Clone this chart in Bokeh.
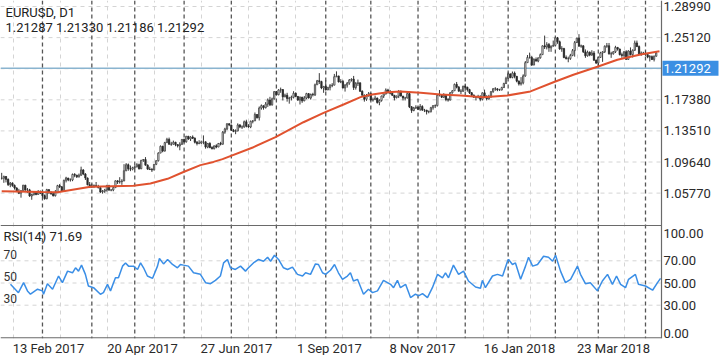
from bokeh.plotting import figure
from bokeh.models import Range1d, FixedTicker, Span, Label, ColumnDataSource
from bokeh.core.properties import value
from bokeh.embed import file_html
from bokeh.resources import INLINE

# ---------------- data ----------------
symbol_title = "EURUSD, D1"
ohlc_text = "1.21287 1.21330 1.21186 1.21292"
rsi_title = "RSI(14) 71.69"
bid_price = 1.21292
first_open = 1.0760

closes = [
    1.0762, 1.0783, 1.0748, 1.0683, 1.0700, 1.0672, 1.0640, 1.0600, 1.0576, 1.0606, 1.0675, 1.0616, 1.0617, 1.0541, 1.0560, 1.0587, 1.0560, 1.0589, 1.0575,
    1.0545, 1.0507, 1.0620, 1.0580, 1.0570, 1.0544, 1.0583, 1.0670, 1.0655, 1.0605, 1.0735, 1.0765, 1.0740, 1.0740, 1.0810, 1.0800, 1.0780, 1.0800, 1.0865, 1.0815, 1.0765, 1.0680, 1.0650,
    1.0665, 1.0670, 1.0660, 1.0645, 1.0590, 1.0600, 1.0615, 1.0670, 1.0615, 1.0615, 1.0645, 1.0730, 1.0715, 1.0720, 1.0727, 1.0855, 1.0930, 1.0880, 1.0875, 1.0895,
    1.0905, 1.0930, 1.0880, 1.0985, 1.0995, 1.0925, 1.0875, 1.0870, 1.0865, 1.0935, 1.0980, 1.1075, 1.1160, 1.1100, 1.1205, 1.1245, 1.1185, 1.1185, 1.1210, 1.1180, 1.1165, 1.1185, 1.1245,
    1.1215, 1.1285, 1.1250, 1.1275, 1.1260, 1.1210, 1.1195, 1.1200, 1.1215, 1.1215, 1.1150, 1.1195, 1.1145, 1.1130, 1.1165, 1.1150, 1.1195, 1.1185, 1.1335, 1.1375, 1.1440, 1.1425,
    1.1360, 1.1345, 1.1350, 1.1425, 1.1400, 1.1400, 1.1465, 1.1410, 1.1400, 1.1470, 1.1475, 1.1555, 1.1515, 1.1635, 1.1665, 1.1640, 1.1685, 1.1735, 1.1675, 1.1750, 1.1840,
    1.1800, 1.1860, 1.1865, 1.1775, 1.1795, 1.1755, 1.1760, 1.1770, 1.1820, 1.1780, 1.1735, 1.1770, 1.1725, 1.1760, 1.1815, 1.1760, 1.1805, 1.1800, 1.1925, 1.1975, 1.1965, 1.1885, 1.1905,
    1.1860, 1.1890, 1.1915, 1.1920, 1.2025, 1.2035, 1.1960, 1.1965, 1.1885, 1.1920, 1.1945, 1.1985, 1.1995, 1.1890, 1.1940, 1.1950, 1.1845, 1.1795, 1.1745, 1.1785, 1.1815,
    1.1735, 1.1740, 1.1760, 1.1705, 1.1730, 1.1785, 1.1810, 1.1860, 1.1830, 1.1820, 1.1795, 1.1765, 1.1785, 1.1840, 1.1785, 1.1760, 1.1760, 1.1815, 1.1650, 1.1605, 1.1635, 1.1645,
    1.1620, 1.1655, 1.1610, 1.1610, 1.1590, 1.1590, 1.1640, 1.1665, 1.1665, 1.1795, 1.1795, 1.1770, 1.1795, 1.1740, 1.1735, 1.1825, 1.1850, 1.1930, 1.1895, 1.1845, 1.1845, 1.1905,
    1.1895, 1.1865, 1.1825, 1.1795, 1.1770, 1.1770, 1.1780, 1.1745, 1.1825, 1.1780, 1.1750, 1.1780, 1.1840, 1.1875, 1.1875, 1.1860, 1.1860, 1.1890, 1.1940, 1.2005,
    1.2060, 1.2015, 1.2070, 1.2030, 1.1970, 1.1935, 1.1950, 1.2035, 1.2200, 1.2265, 1.2265, 1.2170, 1.2240, 1.2220, 1.2260, 1.2300, 1.2410, 1.2395, 1.2425, 1.2385, 1.2405, 1.2415,
    1.2510, 1.2460, 1.2370, 1.2375, 1.2265, 1.2250, 1.2250, 1.2290, 1.2350, 1.2450, 1.2505, 1.2405, 1.2410, 1.2335, 1.2285, 1.2330, 1.2295, 1.2320, 1.2230, 1.2195,
    1.2265, 1.2320, 1.2335, 1.2405, 1.2410, 1.2310, 1.2310, 1.2335, 1.2390, 1.2370, 1.2300, 1.2290, 1.2335, 1.2240, 1.2345, 1.2300, 1.2355, 1.2445, 1.2400, 1.2310, 1.2320, 1.2320,
    1.2300, 1.2270, 1.2275, 1.2240, 1.2280, 1.2320,
]

highs = [
    1.0829, 1.0795, 1.0790, 1.0760, 1.0715, 1.0712, 1.0685, 1.0650, 1.0630, 1.0615, 1.0680, 1.0680, 1.0640, 1.0630, 1.0570, 1.0600, 1.0595, 1.0615, 1.0610,
    1.0590, 1.0560, 1.0630, 1.0625, 1.0600, 1.0575, 1.0615, 1.0680, 1.0690, 1.0665, 1.0745, 1.0780, 1.0765, 1.0760, 1.0820, 1.0825, 1.0805, 1.0820, 1.0906, 1.0875, 1.0825, 1.0770, 1.0715,
    1.0690, 1.0685, 1.0715, 1.0680, 1.0665, 1.0615, 1.0630, 1.0680, 1.0680, 1.0625, 1.0660, 1.0735, 1.0735, 1.0775, 1.0750, 1.0937, 1.0950, 1.0945, 1.0920, 1.0905,
    1.0920, 1.0950, 1.0945, 1.0990, 1.1000, 1.1025, 1.0935, 1.0905, 1.0890, 1.0940, 1.0985, 1.1085, 1.1170, 1.1165, 1.1215, 1.1265, 1.1268, 1.1215, 1.1230, 1.1215, 1.1185, 1.1210, 1.1250,
    1.1255, 1.1285, 1.1285, 1.1285, 1.1295, 1.1270, 1.1225, 1.1235, 1.1230, 1.1295, 1.1220, 1.1200, 1.1210, 1.1160, 1.1170, 1.1185, 1.1200, 1.1215, 1.1350, 1.1390, 1.1445, 1.1445,
    1.1425, 1.1375, 1.1370, 1.1445, 1.1435, 1.1420, 1.1480, 1.1490, 1.1435, 1.1480, 1.1485, 1.1580, 1.1560, 1.1655, 1.1680, 1.1665, 1.1710, 1.1755, 1.1775, 1.1765, 1.1845,
    1.1845, 1.1870, 1.1890, 1.1870, 1.1815, 1.1825, 1.1775, 1.1790, 1.1845, 1.1830, 1.1785, 1.1780, 1.1775, 1.1785, 1.1825, 1.1820, 1.1815, 1.1825, 1.1940, 1.1985, 1.2070, 1.1975, 1.1910,
    1.1980, 1.1900, 1.1935, 1.1945, 1.2060, 1.2092, 1.2030, 1.1995, 1.1985, 1.1935, 1.1960, 1.1995, 1.2005, 1.2035, 1.1960, 1.1990, 1.1950, 1.1855, 1.1805, 1.1810, 1.1835,
    1.1810, 1.1765, 1.1790, 1.1765, 1.1745, 1.1790, 1.1815, 1.1880, 1.1875, 1.1860, 1.1835, 1.1795, 1.1790, 1.1860, 1.1855, 1.1780, 1.1775, 1.1830, 1.1835, 1.1660, 1.1650, 1.1670,
    1.1655, 1.1685, 1.1670, 1.1625, 1.1610, 1.1605, 1.1650, 1.1670, 1.1680, 1.1810, 1.1860, 1.1805, 1.1820, 1.1790, 1.1760, 1.1835, 1.1860, 1.1940, 1.1960, 1.1910, 1.1870, 1.1915,
    1.1940, 1.1900, 1.1875, 1.1835, 1.1805, 1.1780, 1.1800, 1.1795, 1.1830, 1.1865, 1.1795, 1.1800, 1.1845, 1.1885, 1.1895, 1.1880, 1.1875, 1.1900, 1.1950, 1.2025,
    1.2080, 1.2065, 1.2090, 1.2090, 1.2035, 1.1980, 1.2020, 1.2055, 1.2220, 1.2295, 1.2325, 1.2285, 1.2255, 1.2265, 1.2265, 1.2315, 1.2415, 1.2537, 1.2455, 1.2445, 1.2415, 1.2475,
    1.2520, 1.2520, 1.2475, 1.2405, 1.2385, 1.2290, 1.2275, 1.2310, 1.2370, 1.2470, 1.2510, 1.2555, 1.2425, 1.2415, 1.2365, 1.2350, 1.2340, 1.2355, 1.2345, 1.2240,
    1.2275, 1.2335, 1.2345, 1.2415, 1.2445, 1.2445, 1.2335, 1.2345, 1.2410, 1.2395, 1.2375, 1.2325, 1.2345, 1.2355, 1.2355, 1.2390, 1.2365, 1.2475, 1.2475, 1.2415, 1.2340, 1.2335,
    1.2345, 1.2310, 1.2295, 1.2290, 1.2290, 1.2340,
]

lows = [
    1.0745, 1.0705, 1.0710, 1.0665, 1.0650, 1.0655, 1.0620, 1.0590, 1.0565, 1.0520, 1.0600, 1.0605, 1.0580, 1.0530, 1.0494, 1.0545, 1.0550, 1.0560, 1.0565,
    1.0525, 1.0495, 1.0500, 1.0570, 1.0555, 1.0535, 1.0535, 1.0580, 1.0640, 1.0600, 1.0600, 1.0710, 1.0725, 1.0720, 1.0725, 1.0775, 1.0765, 1.0770, 1.0790, 1.0800, 1.0740, 1.0675, 1.0640,
    1.0640, 1.0640, 1.0650, 1.0635, 1.0580, 1.0570, 1.0580, 1.0595, 1.0605, 1.0600, 1.0600, 1.0640, 1.0690, 1.0695, 1.0680, 1.0822, 1.0850, 1.0855, 1.0850, 1.0860,
    1.0875, 1.0895, 1.0870, 1.0875, 1.0965, 1.0920, 1.0870, 1.0865, 1.0840, 1.0860, 1.0925, 1.0970, 1.1075, 1.1085, 1.1095, 1.1200, 1.1180, 1.1165, 1.1180, 1.1160, 1.1145, 1.1110, 1.1175,
    1.1205, 1.1205, 1.1240, 1.1225, 1.1250, 1.1195, 1.1170, 1.1185, 1.1190, 1.1185, 1.1130, 1.1135, 1.1135, 1.1120, 1.1120, 1.1135, 1.1150, 1.1170, 1.1180, 1.1315, 1.1360, 1.1410,
    1.1350, 1.1335, 1.1310, 1.1345, 1.1385, 1.1375, 1.1390, 1.1395, 1.1390, 1.1385, 1.1445, 1.1475, 1.1505, 1.1480, 1.1615, 1.1615, 1.1630, 1.1650, 1.1660, 1.1665, 1.1740,
    1.1795, 1.1795, 1.1825, 1.1730, 1.1770, 1.1715, 1.1690, 1.1730, 1.1755, 1.1775, 1.1725, 1.1680, 1.1700, 1.1720, 1.1745, 1.1755, 1.1740, 1.1780, 1.1785, 1.1925, 1.1935, 1.1870, 1.1825,
    1.1855, 1.1860, 1.1855, 1.1895, 1.1925, 1.2020, 1.1955, 1.1945, 1.1880, 1.1840, 1.1890, 1.1925, 1.1965, 1.1860, 1.1865, 1.1910, 1.1835, 1.1790, 1.1715, 1.1725, 1.1780,
    1.1730, 1.1715, 1.1735, 1.1690, 1.1670, 1.1715, 1.1760, 1.1805, 1.1815, 1.1805, 1.1785, 1.1730, 1.1755, 1.1760, 1.1780, 1.1730, 1.1730, 1.1755, 1.1635, 1.1575, 1.1595, 1.1625,
    1.1610, 1.1600, 1.1600, 1.1585, 1.1555, 1.1570, 1.1580, 1.1615, 1.1635, 1.1655, 1.1780, 1.1760, 1.1760, 1.1720, 1.1715, 1.1730, 1.1815, 1.1850, 1.1880, 1.1840, 1.1810, 1.1835,
    1.1850, 1.1840, 1.1810, 1.1785, 1.1765, 1.1730, 1.1755, 1.1720, 1.1730, 1.1770, 1.1730, 1.1740, 1.1760, 1.1825, 1.1850, 1.1845, 1.1850, 1.1855, 1.1885, 1.1935,
    1.2000, 1.2005, 1.2005, 1.2005, 1.1955, 1.1915, 1.1915, 1.1930, 1.2025, 1.2205, 1.2250, 1.2160, 1.2170, 1.2215, 1.2205, 1.2250, 1.2295, 1.2370, 1.2365, 1.2335, 1.2335, 1.2400,
    1.2410, 1.2435, 1.2360, 1.2335, 1.2255, 1.2240, 1.2205, 1.2235, 1.2280, 1.2275, 1.2445, 1.2400, 1.2385, 1.2320, 1.2260, 1.2275, 1.2280, 1.2285, 1.2225, 1.2185,
    1.2155, 1.2260, 1.2210, 1.2320, 1.2385, 1.2300, 1.2260, 1.2300, 1.2320, 1.2350, 1.2290, 1.2260, 1.2260, 1.2240, 1.2240, 1.2290, 1.2265, 1.2345, 1.2395, 1.2305, 1.2285, 1.2305,
    1.2285, 1.2255, 1.2215, 1.2235, 1.2215, 1.2275,
]

# moving average (bar index, price)
ma_x = [0, 19, 26, 41.4, 61.4, 69.3, 77.3, 84.7, 92.6, 98.7, 102.9, 117.3, 127.6, 140.6, 150.0, 159.3,
        167.2, 171.9, 179.8, 185.8, 195.2, 204.5, 213.8, 224.5, 235.7, 246.4, 257.1, 266.4, 277.6,
        286.9, 297.7, 306.5]
ma_vals = [1.0601, 1.0590, 1.0588, 1.0655, 1.0668, 1.0696, 1.0755, 1.0840, 1.0925, 1.0965, 1.1000,
           1.1148, 1.1273, 1.1459, 1.1576, 1.1680, 1.1771, 1.1800, 1.1833, 1.1842, 1.1825, 1.1805,
           1.1792, 1.1771, 1.1792, 1.1842, 1.1957, 1.2049, 1.2149, 1.2236, 1.2302, 1.2343]

# RSI(14) (bar index, value)
rsi_x = [4.1, 7.8, 10.2, 12.0, 13.4, 16.7, 19.0, 19.5, 21.3, 23.7, 26.5, 28.3, 30.7, 33.0, 34.4, 35.8,
         37.2, 39.0, 40.4, 42.8, 46.0, 47.4, 49.3, 50.7, 53.0, 54.4, 56.3, 57.7, 59.1, 61.4, 63.3,
         64.7, 66.1, 67.9, 70.3, 72.6, 73.5, 75.4, 77.3, 79.6, 81.9, 83.3, 84.7, 87.0, 89.4, 92.6,
         95.0, 97.3, 99.6, 101.9, 103.4, 105.2, 106.6, 108.9, 111.3, 113.6, 115.0, 117.3, 119.7,
         122.0, 123.9, 125.3, 127.1, 129.0, 131.3, 133.2, 135.5, 137.8, 140.2, 141.6, 143.9, 146.2,
         147.6, 149.5, 150.9, 153.2, 155.1, 156.9, 158.8, 161.1, 162.5, 163.9, 165.8, 168.6, 170.9,
         172.8, 175.1, 177.9, 181.2, 182.6, 184.4, 185.8, 188.2, 190.5, 192.8, 194.2, 196.1, 198.4,
         200.7, 203.1, 205.4, 206.8, 208.2, 210.5, 212.9, 215.2, 217.5, 220.8, 223.1, 224.0, 225.4,
         228.7, 231.0, 233.4, 235.7, 236.2, 238.0, 239.4, 241.8, 244.1, 245.5, 247.4, 249.7, 252.5,
         254.8, 256.7, 258.1, 260.4, 262.7, 265.1, 268.3, 269.7, 272.0, 274.3, 277.6, 279.9, 282.3,
         284.6, 286.5, 288.4, 290.7, 292.1, 295.3, 296.7, 300.0, 303.3, 305.6, 307.0]
rsi_vals = [48.8, 41.3, 50.3, 42.9, 39.9, 44.4, 42.9, 39.9, 49.4, 44.4, 56.3, 50.3, 60.7, 59.2, 63.7, 60.7,
            66.1, 57.8, 47.3, 45.8, 39.9, 41.3, 48.8, 42.9, 54.7, 54.7, 65.2, 68.1, 65.2, 65.2, 62.2,
            68.1, 63.7, 56.3, 54.2, 65.2, 72.1, 67.2, 71.2, 66.7, 63.7, 66.7, 66.1, 65.2, 59.2, 57.8,
            50.3, 49.4, 52.4, 56.3, 68.1, 71.2, 63.7, 62.2, 65.2, 60.7, 63.7, 68.1, 71.2,
            69.6, 73.2, 69.6, 75.0, 71.2, 63.7, 62.2, 64.3, 57.8, 56.3, 59.2, 57.8, 67.2,
            66.7, 59.2, 57.8, 61.5, 66.7, 59.2, 53.3, 56.3, 59.2, 51.8, 53.3, 39.9, 44.4,
            41.3, 42.9, 52.4, 48.8, 45.8, 52.4, 45.8, 48.8, 36.9, 39.9, 38.4, 40.4, 36.9,
            45.8, 57.8, 54.7, 59.2, 54.7, 66.1, 57.8, 60.7, 51.8, 46.4, 45.3, 52.4, 45.8,
            56.3, 57.8, 56.3, 69.6, 71.2, 66.7, 68.1, 53.3, 65.2, 73.2, 65.2, 66.7, 74.1,
            73.2, 69.6, 75.0, 60.7, 50.3, 53.3, 65.2, 57.8, 49.4, 50.3, 42.9, 51.8, 57.8,
            48.8, 56.3, 48.8, 45.8, 53.3, 57.8, 48.8, 47.3, 43.5, 50.3, 54.2]

# month separators (bar index of first bar of each month, Mar 2017 .. Apr 2018)
month_start_bars = [19, 42, 62, 85, 107, 128, 151, 172, 194, 216, 236, 258, 278, 300]

date_labels = ["13 Feb 2017", "20 Apr 2017", "27 Jun 2017", "1 Sep 2017", "8 Nov 2017", "16 Jan 2018", "23 Mar 2018"]
date_label_pos = [21.8, 65.6, 109.4, 152.7, 196.1, 241.3, 285.1]

price_ticks = [1.28990, 1.25120, 1.17380, 1.13510, 1.09640, 1.05770]
price_grid_extra = [1.21250]
rsi_levels = [70, 50, 30]
rsi_axis_labels = ["100.00", "70.00", "50.00", "30.00", "0.00"]

# ---------------- geometry (layout only) ----------------
CW, FH = 720, 338                # frame covers whole width; price scale drawn inside it
AX_PX = 661                      # price-scale line position (px)
PPB = 2.146                      # pixels per bar
X_START = -1.2 / PPB
X_END = X_START + CW / PPB
K = 0.0387 / 31.1                # price per pixel
Y_TOP = 1.28990 + 6 * K
Y_BOT = Y_TOP - FH * K
RSI_PX = 1.11                    # pixels per RSI unit
RSI_TOP = FH / RSI_PX
SEP_PY = 225                     # panel separator (px from top)


def sx(px):
    return X_START + px / PPB


def sy(py):
    return Y_TOP - py * K


def rsi_py(r):
    return FH - r * RSI_PX


FONT = "Roboto"
AXIS_COLOR = "#6a6a6a"
GRID_COLOR = "#d4d4d4"

p = figure(frame_width=CW, frame_height=FH,
           x_range=Range1d(X_START, X_END), y_range=Range1d(Y_BOT, Y_TOP),
           y_axis_location=None, output_backend="svg", toolbar_location=None,
           min_border_left=0, min_border_top=0, min_border_right=0, min_border_bottom=0,
           background_fill_color="white", border_fill_color="white", outline_line_color=None)
p.extra_y_ranges = {"rsi": Range1d(0, RSI_TOP)}

# vertical light grid
light_grid = [5.5 + 21.9 * k for k in range(14)]
p.xgrid.ticker = FixedTicker(ticks=light_grid)
p.xgrid.grid_line_color = GRID_COLOR
p.xgrid.grid_line_dash = "4 4"
p.xgrid.grid_line_width = 1
p.ygrid.grid_line_color = None

# horizontal grid lines, stopping at the price scale
rsi_grid_prices = [sy(rsi_py(v)) for v in rsi_levels]
hgrid = price_ticks + price_grid_extra + rsi_grid_prices
p.segment(x0=[X_START] * len(hgrid), x1=[sx(AX_PX)] * len(hgrid), y0=hgrid, y1=hgrid,
          line_color=GRID_COLOR, line_dash="4 4", line_width=1, level="underlay")

# month separators
for b in month_start_bars:
    p.add_layout(Span(location=b, dimension="height", line_color="#555555",
                      line_dash="4 3", line_width=1.3, level="underlay"))

# price-scale line, panel separator, bottom line
p.add_layout(Span(location=sx(AX_PX), dimension="height", line_color=AXIS_COLOR, line_width=1.2))
p.segment(x0=[X_START, X_START], x1=[sx(AX_PX), sx(AX_PX)], y0=[sy(SEP_PY), sy(FH - 0.6)],
          y1=[sy(SEP_PY), sy(FH - 0.6)], line_color=AXIS_COLOR, line_width=1.2)

# bid line
p.segment(x0=[X_START], x1=[sx(AX_PX)], y0=[bid_price], y1=[bid_price],
          line_color="#8ab4cf", line_width=1.5, level="underlay")

# candles
n = min(len(closes), len(highs), len(lows))
opens = [first_open] + closes[:n - 1]
up = dict(x=[], top=[], bottom=[])
dn = dict(x=[], top=[], bottom=[])
wick = dict(x=[], h=[], l=[])
for i in range(n):
    o, c = opens[i], closes[i]
    h = max(highs[i], o, c)
    l = min(lows[i], o, c)
    wick["x"].append(i)
    wick["h"].append(h)
    wick["l"].append(l)
    d = up if c >= o else dn
    d["x"].append(i)
    d["top"].append(max(o, c))
    d["bottom"].append(min(o, c))

p.segment(x0="x", y0="l", x1="x", y1="h", source=ColumnDataSource(wick),
          line_color="#3a3a3a", line_width=1)
p.vbar(x="x", width=0.6, top="top", bottom="bottom", source=ColumnDataSource(up),
       fill_color="#ffffff", line_color="#3a3a3a", line_width=0.8)
p.vbar(x="x", width=0.6, top="top", bottom="bottom", source=ColumnDataSource(dn),
       fill_color="#2a2a2a", line_color="#2a2a2a", line_width=0.8)

# moving average
p.line(ma_x, ma_vals, line_color="#e0522f", line_width=2)

# RSI
p.line(rsi_x, rsi_vals, y_range_name="rsi", line_color="#3a8ee6", line_width=1.5)

# date axis
xa = p.xaxis[0]
xa.ticker = FixedTicker(ticks=date_label_pos)
xa.major_label_overrides = {pos: lab for pos, lab in zip(date_label_pos, date_labels)}
xa.major_tick_out = 0
xa.major_tick_in = 0
xa.minor_tick_line_color = None
xa.axis_line_color = None
xa.major_label_standoff = 2
xa.major_label_text_font = FONT
xa.major_label_text_font_size = "13px"
xa.major_label_text_color = "#2a2a2a"

# price scale labels (drawn as text inside the canvas)
rsi_label_py = [233, rsi_py(70), rsi_py(50), rsi_py(30), 333]
scale_y = price_ticks + [sy(v) for v in rsi_label_py]
scale_txt = [f"{v:.5f}" for v in price_ticks] + rsi_axis_labels
p.text(x=[sx(AX_PX + 2)] * len(scale_y), y=scale_y, text=scale_txt,
       text_font=value(FONT), text_font_size=value("13px"), text_color="#2a2a2a",
       text_baseline="middle", text_align="left")

# bid label box on the price scale
p.rect(x=[sx(AX_PX + 29)], y=[bid_price], width=56 / PPB, height=15 * K,
       fill_color="#3b8fe3", line_color=None)
p.text(x=[sx(AX_PX + 2)], y=[bid_price], text=[f"{bid_price:.5f}"],
       text_font=value(FONT), text_font_size=value("13px"), text_color="#ffffff",
       text_baseline="middle", text_align="left")

# texts
p.add_layout(Label(x=sx(5), y=sy(12), text=symbol_title, text_font=FONT, text_font_size="13px",
                   text_color="#222222", text_baseline="middle", text_align="left"))
p.add_layout(Label(x=sx(5), y=sy(27), text=ohlc_text, text_font=FONT, text_font_size="13px",
                   text_color="#222222", text_baseline="middle", text_align="left"))
p.add_layout(Label(x=sx(3), y=sy(236), text=rsi_title, text_font=FONT, text_font_size="13px",
                   text_color="#222222", text_baseline="middle", text_align="left"))
for lv in rsi_levels:
    p.add_layout(Label(x=sx(3), y=sy(rsi_py(lv) - 6.5), text=str(lv), text_font=FONT,
                       text_font_size="12px", text_color="#333333", text_baseline="middle",
                       text_align="left"))

open("out.html", "w").write(file_html(p, INLINE))
